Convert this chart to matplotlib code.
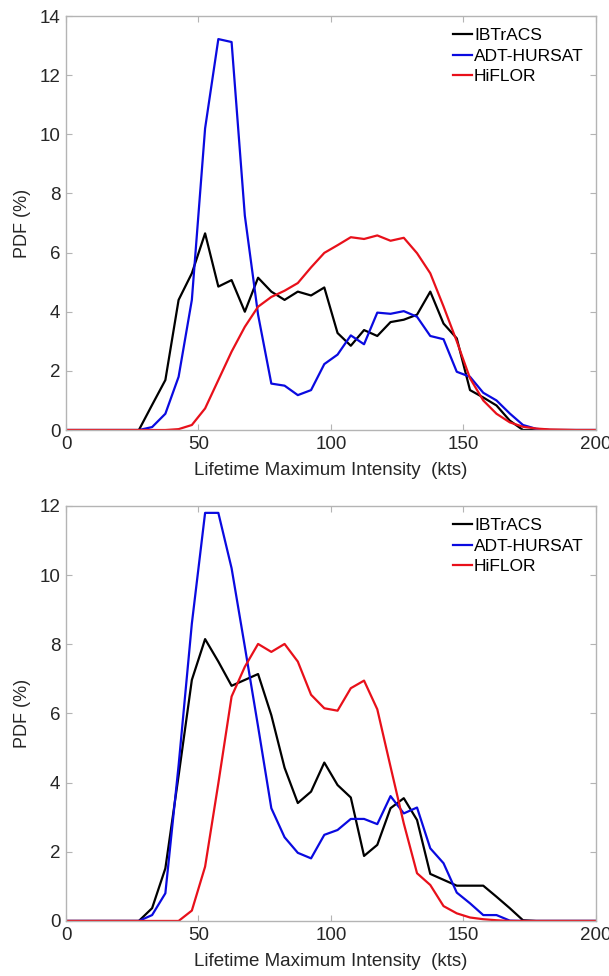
import numpy as np
import matplotlib
matplotlib.use("Agg")
import matplotlib.pyplot as plt

plt.rcParams['font.family'] = ['Liberation Sans', 'DejaVu Sans']

# bin centres (kts), padded with the axis ends
kts = [0, 2.5, 7.5, 12.5, 17.5, 22.5, 27.5, 32.5, 37.5, 42.5, 47.5, 52.5, 57.5, 62.5,
       67.5, 72.5, 77.5, 82.5, 87.5, 92.5, 97.5, 102.5, 107.5, 112.5, 117.5, 122.5,
       127.5, 132.5, 137.5, 142.5, 147.5, 152.5, 157.5, 162.5, 167.5, 172.5, 177.5,
       182.5, 187.5, 192.5, 197.5, 200]

# top panel
ib_top = [0, 0, 0, 0, 0, 0, 0, 0.85, 1.69, 4.4, 5.3, 6.65, 4.85, 5.07, 4.0, 5.15,
          4.68, 4.4, 4.68, 4.55, 4.82, 3.28, 2.85, 3.38, 3.18, 3.65,
          3.73, 3.9, 4.68, 3.6, 3.1, 1.35, 1.1, 0.83, 0.32, 0,
          0, 0, 0, 0, 0, 0]
adt_top = [0, 0, 0, 0, 0, 0, 0, 0.1, 0.55, 1.8, 4.4, 10.2, 13.22, 13.12, 7.25, 3.9,
           1.57, 1.5, 1.18, 1.35, 2.23, 2.55, 3.2, 2.9, 3.97, 3.93,
           4.02, 3.83, 3.18, 3.07, 1.97, 1.8, 1.26, 1.0, 0.56, 0.17,
           0.04, 0, 0, 0, 0, 0]
hif_top = [0, 0, 0, 0, 0, 0, 0, 0, 0, 0.03, 0.17, 0.73, 1.69, 2.65, 3.49, 4.17,
           4.5, 4.71, 4.97, 5.5, 5.99, 6.25, 6.52, 6.46, 6.58, 6.4,
           6.5, 5.98, 5.3, 4.18, 3.0, 1.75, 1.0, 0.55, 0.26, 0.11,
           0.05, 0.02, 0.01, 0, 0, 0]

# bottom panel
ib_bot = [0, 0, 0, 0, 0, 0, 0, 0.37, 1.52, 4.2, 6.97, 8.15, 7.5, 6.8, 6.97, 7.14,
          5.95, 4.43, 3.41, 3.74, 4.58, 3.93, 3.57, 1.88, 2.2, 3.26,
          3.55, 2.92, 1.36, 1.19, 1.02, 1.02, 1.02, 0.7, 0.37, 0.02,
          0, 0, 0, 0, 0, 0]
adt_bot = [0, 0, 0, 0, 0, 0, 0, 0.17, 0.8, 4.5, 8.6, 11.8, 11.8, 10.2, 7.93, 5.62,
           3.26, 2.42, 1.97, 1.81, 2.49, 2.63, 2.95, 2.95, 2.8, 3.61,
           3.11, 3.28, 2.1, 1.67, 0.82, 0.51, 0.17, 0.17, 0.01, 0,
           0, 0, 0, 0, 0, 0]
hif_bot = [0, 0, 0, 0, 0, 0, 0, 0, 0, 0, 0.3, 1.57, 3.98, 6.49, 7.35, 8.01,
           7.78, 8.01, 7.5, 6.54, 6.15, 6.08, 6.73, 6.95, 6.12, 4.46,
           2.82, 1.38, 1.04, 0.43, 0.22, 0.1, 0.05, 0.02, 0, 0,
           0, 0, 0, 0, 0, 0]

labels = ['IBTrACS', 'ADT-HURSAT', 'HiFLOR']
colors = ['#000000', '#0a0ae0', '#e8101a']

fig = plt.figure(figsize=(6.09, 9.76), dpi=100)
ax1 = fig.add_axes([0.1084, 0.5594, 0.870, 0.4242])
ax2 = fig.add_axes([0.1084, 0.0564, 0.870, 0.4252])

panels = [(ax1, [ib_top, adt_top, hif_top], 14),
          (ax2, [ib_bot, adt_bot, hif_bot], 12)]

for ax, series, ymax in panels:
    for y, lab, c in zip(series, labels, colors):
        ax.plot(kts, y, color=c, lw=1.6, label=lab)
    ax.set_xlim(0, 200)
    ax.set_ylim(0, ymax)
    ax.set_xticks([0, 50, 100, 150, 200])
    ax.set_yticks(np.arange(0, ymax + 1, 2))
    for s in ax.spines.values():
        s.set_color('#b4b4b4')
        s.set_linewidth(1.0)
    ax.tick_params(direction='in', top=True, right=True, length=4,
                   color='#b4b4b4', labelsize=13.5, labelcolor='#262626', pad=4)
    ax.set_xlabel('Lifetime Maximum Intensity  (kts)', fontsize=13.5, color='#262626', labelpad=7)
    ax.set_ylabel('PDF (%)', fontsize=13, color='#262626', labelpad=6)
    ax.legend(loc='upper right', bbox_to_anchor=(1.0, 1.0), frameon=False, fontsize=12.5,
              handlelength=1.1, handletextpad=0.12, labelspacing=0.3, borderaxespad=0.3)

fig.savefig('out.png', dpi=100)
